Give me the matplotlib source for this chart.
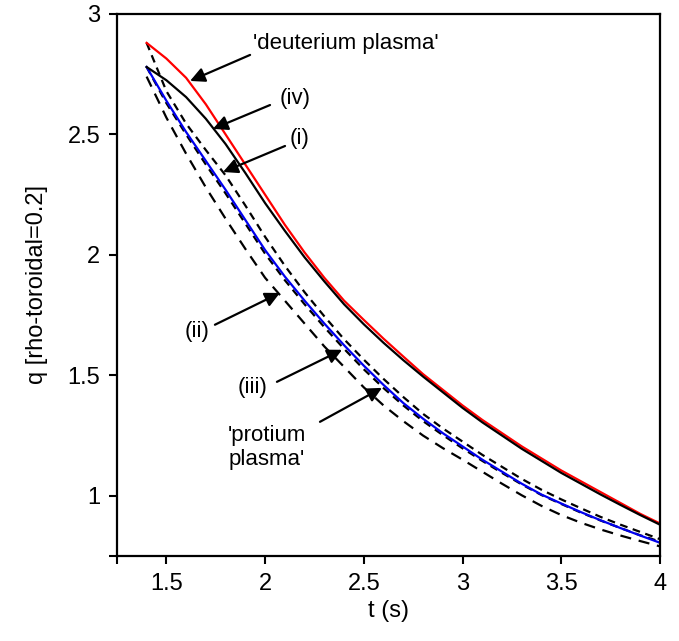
import matplotlib
matplotlib.use("Agg")
import matplotlib.pyplot as plt

plt.rcParams["font.family"] = ["Liberation Sans", "DejaVu Sans"]

# time grid (s)
t = [1.4, 1.5, 1.6, 1.7, 1.8, 1.9, 2.0, 2.1, 2.2, 2.3, 2.4, 2.5, 2.6, 2.7,
     2.8, 2.9, 3.0, 3.1, 3.2, 3.3, 3.4, 3.5, 3.6, 3.7, 3.8, 3.9, 4.0]

# q at rho-toroidal = 0.2
q_deuterium = [2.88, 2.815, 2.735, 2.625, 2.50, 2.375, 2.25, 2.125, 2.01, 1.905, 1.81, 1.73, 1.652, 1.578,
               1.505, 1.44, 1.375, 1.315, 1.26, 1.205, 1.155, 1.105, 1.06, 1.015, 0.97, 0.925, 0.885]
q_iv = [2.78, 2.725, 2.655, 2.565, 2.46, 2.34, 2.215, 2.10, 1.99, 1.89, 1.795, 1.712, 1.635, 1.563,
        1.495, 1.43, 1.365, 1.305, 1.25, 1.195, 1.145, 1.095, 1.05, 1.005, 0.962, 0.92, 0.88]
q_i = [2.88, 2.68, 2.545, 2.435, 2.33, 2.205, 2.075, 1.955, 1.845, 1.745, 1.65, 1.565, 1.485, 1.41,
       1.34, 1.28, 1.225, 1.17, 1.12, 1.07, 1.025, 0.985, 0.948, 0.912, 0.88, 0.85, 0.82]
q_ii = [2.74, 2.57, 2.42, 2.28, 2.15, 2.025, 1.905, 1.81, 1.715, 1.62, 1.535, 1.45, 1.375, 1.31,
        1.25, 1.198, 1.15, 1.10, 1.05, 1.002, 0.958, 0.92, 0.888, 0.86, 0.835, 0.812, 0.79]
q_iii = [2.78, 2.63, 2.50, 2.375, 2.255, 2.13, 2.005, 1.895, 1.795, 1.70, 1.61, 1.525, 1.447, 1.375,
         1.31, 1.252, 1.197, 1.145, 1.095, 1.047, 1.003, 0.966, 0.93, 0.897, 0.866, 0.836, 0.81]
q_protium = [2.78, 2.64, 2.51, 2.39, 2.27, 2.145, 2.02, 1.91, 1.81, 1.715, 1.625, 1.54, 1.46, 1.385,
             1.32, 1.26, 1.205, 1.15, 1.10, 1.05, 1.005, 0.968, 0.932, 0.898, 0.866, 0.835, 0.805]

xticks = [1.25, 1.5, 2.0, 2.5, 3.0, 3.5, 4.0]
xtick_labels = ["", "1.5", "2", "2.5", "3", "3.5", "4"]
yticks = [0.75, 1.0, 1.5, 2.0, 2.5, 3.0]
ytick_labels = ["", "1", "1.5", "2", "2.5", "3"]

fig = plt.figure(figsize=(6.79, 6.41), dpi=100)
ax = fig.add_axes([0.1723, 0.1326, 0.7997, 0.8456])

lw = 1.6
ax.plot(t, q_iii, color="black", lw=lw, dashes=(3.5, 2.5))
ax.plot(t, q_protium, color="#0000ee", lw=lw)
ax.plot(t, q_ii, color="black", lw=lw, dashes=(5, 3.5))
ax.plot(t, q_i, color="black", lw=lw, dashes=(3.5, 2.5))
ax.plot(t, q_deuterium, color="#ff0000", lw=lw)
ax.plot(t, q_iv, color="black", lw=lw)

ax.set_xlim(1.25, 4.0)
ax.set_ylim(0.75, 3.0)
ax.set_xticks(xticks)
ax.set_xticklabels(xtick_labels)
ax.set_yticks(yticks)
ax.set_yticklabels(ytick_labels)
ax.tick_params(direction="out", length=6, width=1.5, labelsize=17, pad=6)
for s in ax.spines.values():
    s.set_linewidth(1.6)

ax.set_xlabel("t (s)", fontsize=17, labelpad=4)
ax.set_ylabel("q [rho-toroidal=0.2]", fontsize=17, labelpad=14)

arrow = dict(arrowstyle="-|>", color="black", lw=1.6, mutation_scale=22,
             shrinkA=0, shrinkB=0)
fs = 16

# label, text position, tail, tip
ax.annotate("", xy=(1.62, 2.722), xytext=(1.924, 2.83), arrowprops=arrow)
ax.text(1.939, 2.876, "'deuterium plasma'", fontsize=fs, ha="left", va="center")

ax.annotate("", xy=(1.736, 2.523), xytext=(2.025, 2.622), arrowprops=arrow)
ax.text(2.151, 2.651, "(iv)", fontsize=fs, ha="center", va="center")

ax.annotate("", xy=(1.787, 2.344), xytext=(2.101, 2.452), arrowprops=arrow)
ax.text(2.177, 2.485, "(i)", fontsize=fs, ha="center", va="center")

ax.annotate("", xy=(2.075, 1.842), xytext=(1.746, 1.71), arrowprops=arrow)
ax.text(1.655, 1.68, "(ii)", fontsize=fs, ha="center", va="center")

ax.annotate("", xy=(2.39, 1.606), xytext=(2.06, 1.473), arrowprops=arrow)
ax.text(1.939, 1.448, "(iii)", fontsize=fs, ha="center", va="center")

ax.annotate("", xy=(2.592, 1.448), xytext=(2.278, 1.307), arrowprops=arrow)
ax.text(2.01, 1.20, "'protium\nplasma'", fontsize=fs, ha="center", va="center",
        linespacing=1.15)

fig.savefig("out.png", dpi=100)
